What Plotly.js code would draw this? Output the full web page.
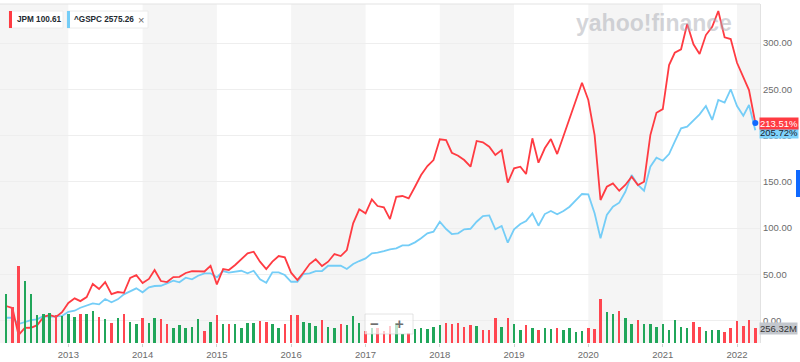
<!DOCTYPE html>
<html><head><meta charset="utf-8">
<script src="https://cdn.plot.ly/plotly-3.0.1.min.js"></script>
<style>html,body{margin:0;padding:0;background:#fff;}#chart{width:800px;height:362px;}</style>
</head><body><div id="chart"></div>
<script>
// Monthly points, Mar 2012 .. Apr 2022
const months = [
 '2012-03','2012-04','2012-05','2012-06','2012-07','2012-08','2012-09','2012-10','2012-11','2012-12',
 '2013-01','2013-02','2013-03','2013-04','2013-05','2013-06','2013-07','2013-08','2013-09','2013-10','2013-11','2013-12',
 '2014-01','2014-02','2014-03','2014-04','2014-05','2014-06','2014-07','2014-08','2014-09','2014-10','2014-11','2014-12',
 '2015-01','2015-02','2015-03','2015-04','2015-05','2015-06','2015-07','2015-08','2015-09','2015-10','2015-11','2015-12',
 '2016-01','2016-02','2016-03','2016-04','2016-05','2016-06','2016-07','2016-08','2016-09','2016-10','2016-11','2016-12',
 '2017-01','2017-02','2017-03','2017-04','2017-05','2017-06','2017-07','2017-08','2017-09','2017-10','2017-11','2017-12',
 '2018-01','2018-02','2018-03','2018-04','2018-05','2018-06','2018-07','2018-08','2018-09','2018-10','2018-11','2018-12',
 '2019-01','2019-02','2019-03','2019-04','2019-05','2019-06','2019-07','2019-08','2019-09','2019-10','2019-11','2019-12',
 '2020-01','2020-02','2020-03','2020-04','2020-05','2020-06','2020-07','2020-08','2020-09','2020-10','2020-11','2020-12',
 '2021-01','2021-02','2021-03','2021-04','2021-05','2021-06','2021-07','2021-08','2021-09','2021-10','2021-11','2021-12',
 '2022-01','2022-02','2022-03','2022-04'
];
// % change, JPM
const jpmPct = [
 15.7,13.5,-15.7,-8,-7.8,-5,3.8,6,3.8,9,
 19,24,21,25.4,39.5,34,41.6,28.6,30.8,30.0,46,49,
 40.5,45,54.6,42.7,41.6,47,47.2,51.4,53.5,53.5,53.0,59.2,
 39.1,55.7,54.6,60,66.2,72.6,74.4,63.6,55.7,63.6,69.7,68.3,
 51.7,43.8,51.7,61.1,66.2,58.9,63.6,71.9,69.7,76.2,105.1,120.2,
 115.9,131,123.8,122.4,109.7,133.8,134.6,132.1,144.6,157.3,167,173.5,
 195.9,195.1,181.4,178.2,173.5,166.3,194.1,192.6,187.9,178.9,184.3,149,
 164.5,166.3,158.4,197,170.6,186.2,196.2,180,199.5,218.6,236.5,257,
 238.4,200.5,130.3,144.6,148.3,140.3,146.5,155.5,146.5,150.1,200.5,224.6,
 228.6,276.2,289.5,293.2,320.5,298.6,288.1,308.6,317.6,334.6,306.2,304.3,
 278.7,263.6,249.2,213.51
];
// % change, ^GSPC
const gspcPct = [
 3.0,3.0,-3.8,-1.3,0.5,1.3,4.9,4.1,4.1,4.9,
 9.5,10.6,13.8,16,18.6,17.5,23.2,19.7,22.9,28.3,31.9,34.8,
 30.5,35.9,37.3,37.6,40.2,43,41.3,46.3,44.5,48.4,51,51,
 46.7,53.5,51.7,52.8,53.8,51,53.8,44.5,40.9,52.1,52.1,49.2,
 41.9,41.9,50.3,51,53.5,53.5,59.2,59.2,59.2,55.7,61.1,64.3,
 67.2,72.6,73.3,75.1,77,78.1,81.3,81.3,84.5,88.9,94.3,96,
 106.8,98.9,93.5,94.3,98.6,99.2,106.8,113,113.7,98.6,102.2,84.1,
 98.6,104.3,107.6,115.9,102.5,115.1,118.4,114.8,118.4,123,130.3,136.8,
 136.4,115.9,88.9,114.1,123,127.4,139.2,157.3,146.5,140.3,166.3,176,
 172.8,180,193.3,207.8,209.5,216,222.9,231.9,216.8,238.4,235.5,250,
 231.9,221.4,233,205.72
];
// JPM monthly volume, millions
const jpmVolM = [
 860,633,1342,1081,848,482,500,529,482,471,
 511,459,511,500,558,453,424,354,442,500,372,337,
 442,354,442,413,325,267,314,256,279,424,209,366,
 488,325,337,337,267,354,354,383,366,337,256,325,
 488,488,366,354,296,401,285,267,325,314,471,354,
 209,267,267,209,296,354,163,180,250,267,250,285,
 314,354,325,343,279,314,296,227,227,442,285,442,
 337,221,314,256,232,256,238,267,227,256,192,209,
 256,250,761,546,511,558,442,325,395,337,337,279,
 325,232,407,285,256,366,279,209,232,232,198,256,
 383,291,401,256.32
];
const yTickVals = [0,50,100,150,200,250,300];
const shadedYears = [2012,2014,2016,2018,2020,2022];
const legendItems = ['JPM 100.61','^GSPC 2575.26'];
const jpmLastLabel = '213.51%';
const gspcLastLabel = '205.72%';
const volLastLabel = '256.32M';

const RED = '#ff3b42', BLUE = '#74cdf7', GREEN = '#21a65a', VRED = '#ff4650';
const volColors = jpmPct.map((v, i) => (i === 0 || v >= jpmPct[i - 1]) ? GREEN : VRED);
const n = months.length;

const traces = [
  {x: months, y: gspcPct, type: 'scatter', mode: 'lines', line: {color: BLUE, width: 1.8}, hoverinfo: 'skip'},
  {x: months, y: jpmPct, type: 'scatter', mode: 'lines', line: {color: RED, width: 1.8}, hoverinfo: 'skip'},
  {x: [months[n-1]], y: [jpmPct[n-1]], type: 'scatter', mode: 'markers', marker: {color: '#0f69ff', size: 6}, hoverinfo: 'skip'},
  {x: months, y: jpmVolM, type: 'bar', yaxis: 'y2', marker: {color: volColors}, width: 1.05e9, hoverinfo: 'skip'}
];

const W = 760, T = 4, B = 343, H = B - T;
const px = v => v / W;
const py = v => (B - v) / H;

const shapes = shadedYears.map(y => ({
  type: 'rect', xref: 'x', yref: 'paper', x0: y + '-01-01', x1: (y + 1) + '-01-01', y0: 0, y1: 1,
  fillcolor: '#f5f5f5', line: {width: 0}, layer: 'below'
}));
shapes.push({type: 'line', xref: 'paper', yref: 'paper', x0: 0, x1: 1, y0: 1, y1: 1, line: {color: '#e3e3e3', width: 1}});
// legend chips
shapes.push({type: 'rect', xref: 'paper', yref: 'paper', x0: px(9), x1: px(63), y0: py(28), y1: py(11), fillcolor: '#ffffff', line: {color: '#ececec', width: 1}, layer: 'above'});
shapes.push({type: 'rect', xref: 'paper', yref: 'paper', x0: px(9), x1: px(12), y0: py(28), y1: py(11), fillcolor: RED, line: {width: 0}, layer: 'above'});
shapes.push({type: 'rect', xref: 'paper', yref: 'paper', x0: px(67), x1: px(148), y0: py(28), y1: py(11), fillcolor: '#ffffff', line: {color: '#ececec', width: 1}, layer: 'above'});
shapes.push({type: 'rect', xref: 'paper', yref: 'paper', x0: px(67), x1: px(70), y0: py(28), y1: py(11), fillcolor: BLUE, line: {width: 0}, layer: 'above'});
// zoom control
shapes.push({type: 'rect', xref: 'paper', yref: 'paper', x0: px(365), x1: px(413), y0: py(334), y1: py(314), fillcolor: 'rgba(255,255,255,0.7)', line: {color: 'rgba(210,210,210,0.6)', width: 1}, layer: 'above'});
// blue side tab
shapes.push({type: 'rect', xref: 'paper', yref: 'paper', x0: px(796), x1: px(801), y0: py(197), y1: py(170), fillcolor: '#0f69ff', line: {width: 0}, layer: 'above'});

const F = 'Liberation Sans, Arial, Helvetica, sans-serif';
const annotations = [
  {xref: 'paper', yref: 'paper', x: px(734), y: py(23), xanchor: 'right', yanchor: 'middle', showarrow: false,
   text: '<b>yahoo!finance</b>', font: {family: F, size: 23, color: 'rgba(170,172,180,0.5)'}},
  {xref: 'paper', yref: 'paper', x: px(15), y: py(19.5), xanchor: 'left', yanchor: 'middle', showarrow: false,
   text: legendItems[0], font: {family: F, size: 8.2, color: '#232a31', weight: 600}},
  {xref: 'paper', yref: 'paper', x: px(72), y: py(19.5), xanchor: 'left', yanchor: 'middle', showarrow: false,
   text: legendItems[1], font: {family: F, size: 8.2, color: '#232a31', weight: 600}},
  {xref: 'paper', yref: 'paper', x: px(140.5), y: py(19.5), xanchor: 'center', yanchor: 'middle', showarrow: false,
   text: '×', font: {family: F, size: 11, color: '#666'}},
  {xref: 'paper', yref: 'paper', x: px(374), y: py(323.5), xanchor: 'center', yanchor: 'middle', showarrow: false,
   text: '<b>−</b>', font: {family: F, size: 15, color: '#6e6e6e'}},
  {xref: 'paper', yref: 'paper', x: px(399), y: py(323.5), xanchor: 'center', yanchor: 'middle', showarrow: false,
   text: '<b>+</b>', font: {family: F, size: 15, color: '#6e6e6e'}},
  {xref: 'paper', yref: 'y', x: 1, y: gspcPct[n-1], xanchor: 'left', yanchor: 'middle', showarrow: false, xshift: -1, yshift: -2,
   text: gspcLastLabel, bgcolor: '#7fd3fb', borderpad: 0, font: {family: F, size: 9.5, color: '#1b2330'}},
  {xref: 'paper', yref: 'y', x: 1, y: jpmPct[n-1], xanchor: 'left', yanchor: 'middle', showarrow: false, xshift: -1, yshift: 0,
   text: jpmLastLabel, bgcolor: '#ff3b42', borderpad: 0, font: {family: F, size: 9.5, color: '#ffffff'}},
  {xref: 'paper', yref: 'y2', x: 1, y: jpmVolM[n-1], xanchor: 'left', yanchor: 'middle', showarrow: false, xshift: -1,
   text: volLastLabel, bgcolor: '#c3c7cd', borderpad: 0, font: {family: F, size: 9.5, color: '#333'}}
];

const layout = {
  width: 800, height: 362,
  margin: {l: 0, r: 40, t: T, b: 362 - B, pad: 0},
  paper_bgcolor: '#ffffff', plot_bgcolor: '#ffffff',
  showlegend: false, bargap: 0,
  xaxis: {type: 'date', range: ['2012-01-31', '2022-04-24'], tickformat: '%Y', dtick: 'M12', tick0: '2013-01-01',
    showgrid: false, zeroline: false, showline: false, ticks: 'outside', ticklen: 3, tickcolor: '#d0d0d0',
    tickfont: {family: F, size: 9.5, color: '#6b6b6b'}, fixedrange: true},
  yaxis: {side: 'right', range: [-24.3, 342.2], tickvals: yTickVals, tickformat: '.2f', ticksuffix: '%',
    showgrid: true, gridcolor: '#eeeeee', zeroline: false, showline: true, linecolor: '#e2e2e2', ticks: '',
    tickfont: {family: F, size: 9.5, color: '#6b6b6b'}, automargin: false, fixedrange: true},
  yaxis2: {overlaying: 'y', side: 'right', range: [0, 5911], visible: false, showgrid: false, fixedrange: true},
  shapes: shapes, annotations: annotations
};

Plotly.newPlot('chart', traces, layout, {displayModeBar: false, staticPlot: true});
</script>
</body></html>
